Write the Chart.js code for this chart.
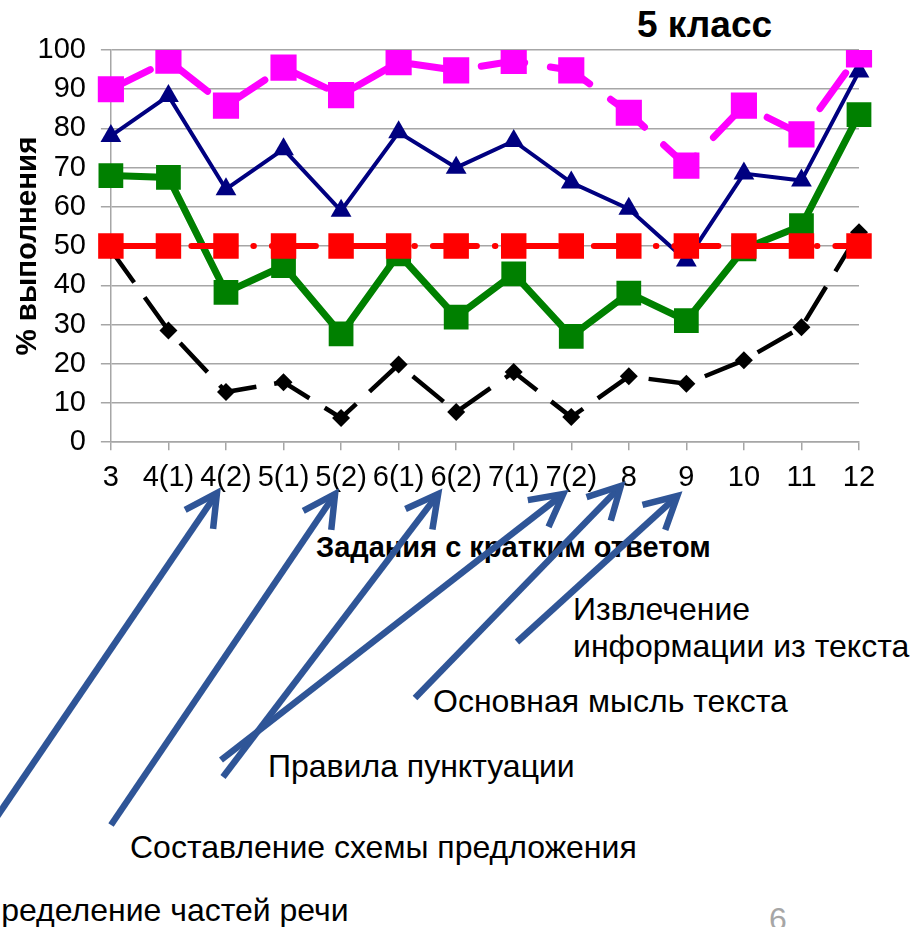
<!DOCTYPE html>
<html>
<head>
<meta charset="utf-8">
<title>5 класс</title>
<script src="https://cdn.jsdelivr.net/npm/chart.js@4.4.1/dist/chart.umd.min.js"></script>
<style>
  html, body { margin: 0; padding: 0; background: #fff; }
  #wrap { position: relative; width: 913px; height: 927px; overflow: hidden; font-family: "Liberation Sans", Arial, sans-serif; }
  #chart { position: absolute; left: 0; top: 0; z-index: 1; }
  .note { position: absolute; font-size: 32px; line-height: 1; color: #000; white-space: nowrap; }
  #title { position: absolute; left: 637px; top: 6px; font-size: 37px; font-weight: bold; line-height: 1; }
  #xtitle { position: absolute; left: 316px; top: 533px; font-size: 29px; font-weight: bold; line-height: 1; white-space: nowrap; z-index: 0; }
  #page { position: absolute; left: 769px; top: 903px; font-size: 32px; line-height: 1; color: #a6a6a6; }
</style>
</head>
<body>
<div id="wrap">
  <div id="xtitle">Задания с кратким ответом</div>
  <canvas id="chart" width="913" height="927"></canvas>
  <div id="title">5 класс</div>
  <div class="note" style="left:573px; top:593px;">Извлечение</div>
  <div class="note" style="left:573px; top:630px;">информации из текста</div>
  <div class="note" style="left:433px; top:685px;">Основная мысль текста</div>
  <div class="note" style="left:268px; top:750px;">Правила пунктуации</div>
  <div class="note" style="left:130px; top:831px;">Составление схемы предложения</div>
  <div class="note" style="left:-41px; top:894px;">Определение частей речи</div>
  <div id="page">6</div>
</div>
<script>
// tasks on the x axis
const categories = ["3", "4(1)", "4(2)", "5(1)", "5(2)", "6(1)", "6(2)", "7(1)", "7(2)", "8", "9", "10", "11", "12"];

// % of completion
const seriesPink  = [90, 97.3, 85.8, 95.5, 88.5, 96.9, 94.8, 97.2, 94.8, 84, 70.5, 85.8, 78.5, 98.9];
const seriesNavy  = [78.1, 88.3, 64.5, 74.7, 59, 79, 70, 76.8, 66.2, 59.5, 46.3, 68.5, 66.7, 94.5];
const seriesGreen = [68, 67.5, 38.2, 45, 27.6, 48, 31.9, 42.9, 27, 38, 31, 49.3, 55.2, 83.5];
const seriesRed   = [50, 50, 50, 50, 50, 50, 50, 50, 50, 50, 50, 50, 50, 50];
const seriesBlack = [49, 28.5, 12.8, 15.3, 6.2, 19.8, 7.7, 17.9, 6.4, 16.8, 14.9, 20.9, 29.3, 53.5];

const yTicks = { min: 0, max: 100, step: 10 };

// arrows from the captions to the tasks (tip is tied to the category on the x scale)
const arrows = [
    { target: "4(2)", dx: -9, tipY: 493, tail: [-4, 818] },
    { target: "5(2)", dx: -6, tipY: 494, tail: [111, 825] },
    { target: "6(2)", dx: -18, tipY: 494, tail: [223, 777] },
    { target: "7(2)", dx: -8, tipY: 494, tail: [221, 760] },
    { target: "8", dx: -8, tipY: 486, tail: [415, 698] },
    { target: "9", dx: -9, tipY: 496, tail: [517, 642] }
];

Chart.defaults.font.family = "'Liberation Sans', Arial, sans-serif";
Chart.defaults.color = "#000";

const arrowPlugin = {
    id: "arrows",
    afterDraw(chart) {
        const ctx = chart.ctx;
        const xScale = chart.scales.x;
        ctx.save();
        ctx.strokeStyle = "#2f5597";
        ctx.lineWidth = 6.5;
        ctx.lineJoin = "miter";
        ctx.lineCap = "butt";
        arrows.forEach(function (a) {
            const x2 = xScale.getPixelForValue(categories.indexOf(a.target)) + a.dx;
            const y2 = a.tipY;
            const x1 = a.tail[0];
            const y1 = a.tail[1];
            const ang = Math.atan2(y2 - y1, x2 - x1);
            const len = 36;
            const spread = 28 * Math.PI / 180;
            ctx.beginPath();
            ctx.moveTo(x1, y1);
            ctx.lineTo(x2 - 3 * Math.cos(ang), y2 - 3 * Math.sin(ang));
            ctx.stroke();
            ctx.beginPath();
            ctx.moveTo(x2 - len * Math.cos(ang - spread), y2 - len * Math.sin(ang - spread));
            ctx.lineTo(x2, y2);
            ctx.lineTo(x2 - len * Math.cos(ang + spread), y2 - len * Math.sin(ang + spread));
            ctx.stroke();
        });
        ctx.restore();
    }
};

const ctx = document.getElementById("chart");

new Chart(ctx, {
    type: "line",
    data: {
        labels: categories,
        datasets: [
            {
                label: "red",
                data: seriesRed,
                borderColor: "#ff0000",
                backgroundColor: "#ff0000",
                borderWidth: 6,
                borderDash: [44, 18, 0.5, 18],
                borderCapStyle: "round",
                pointStyle: "rect",
                pointRadius: 18,
                pointBorderWidth: 0
            },
            {
                label: "pink",
                data: seriesPink,
                borderColor: "#ff00ff",
                backgroundColor: "#ff00ff",
                borderWidth: 7,
                borderDash: [44, 26],
                borderCapStyle: "round",
                pointStyle: "rect",
                pointRadius: 18.5,
                pointBorderWidth: 0
            },
            {
                label: "navy",
                data: seriesNavy,
                borderColor: "#000080",
                backgroundColor: "#000080",
                borderWidth: 4,
                pointStyle: "triangle",
                pointRadius: 12,
                pointBorderWidth: 0
            },
            {
                label: "green",
                data: seriesGreen,
                borderColor: "#008000",
                backgroundColor: "#008000",
                borderWidth: 7,
                pointStyle: "rect",
                pointRadius: 17.5,
                pointBorderWidth: 0
            },
            {
                label: "black",
                data: seriesBlack,
                borderColor: "#000000",
                backgroundColor: "#000000",
                borderWidth: 4.5,
                borderDash: [40, 18],
                pointStyle: "rectRot",
                pointRadius: 9,
                pointBorderWidth: 0
            }
        ]
    },
    options: {
        responsive: false,
        animation: false,
        layout: {
            padding: { left: 0, right: 54, top: 50, bottom: 422 }
        },
        elements: {
            line: { tension: 0, fill: false },
            point: { hoverRadius: 0 }
        },
        plugins: {
            legend: { display: false },
            tooltip: { enabled: false }
        },
        scales: {
            x: {
                offset: false,
                grid: { drawOnChartArea: false, drawTicks: true, tickLength: 8, color: "#a6a6a6", lineWidth: 1.5 },
                border: { color: "#a6a6a6", width: 1.5 },
                ticks: { autoSkip: false, maxRotation: 0, font: { size: 29 }, color: "#000", padding: 10 },
                title: { display: false }
            },
            y: {
                min: yTicks.min,
                max: yTicks.max,
                grid: { color: "#a6a6a6", lineWidth: 1.5, tickLength: 10 },
                border: { color: "#a6a6a6", width: 1.5 },
                ticks: { stepSize: yTicks.step, font: { size: 29 }, color: "#000", padding: 15 },
                title: {
                    display: true,
                    text: "% выполнения",
                    font: { size: 29.5, weight: "bold", lineHeight: 1 },
                    color: "#000",
                    padding: { top: 13, bottom: -20 }
                }
            }
        }
    },
    plugins: [arrowPlugin]
});
</script>
</body>
</html>
